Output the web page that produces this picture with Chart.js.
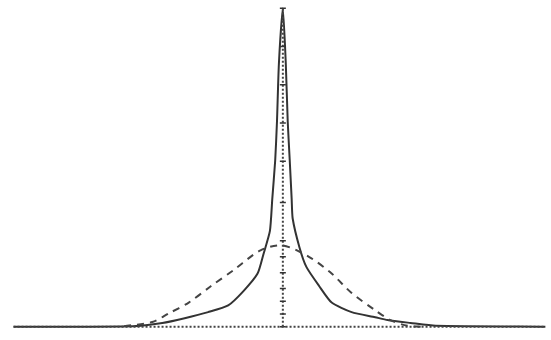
<!DOCTYPE html>
<html>
<head>
<meta charset="utf-8">
<script src="https://cdn.jsdelivr.net/npm/chart.js@4.4.0/dist/chart.umd.min.js"></script>
<style>
  html, body { margin: 0; padding: 0; background: #fff; }
  #wrap { width: 551px; height: 340px; }
</style>
</head>
<body>
<div id="wrap"><canvas id="chart"></canvas></div>
<script>
// Peaked (solid) profile
const solidX = [-4.58, -2.55, -2.05, -1.67, -1.27, -0.93, -0.67, -0.43, -0.33, -0.22, -0.18, -0.13, -0.10, -0.067, 0,
  0.05, 0.083, 0.117, 0.15, 0.167, 0.283, 0.40, 0.617, 0.83, 1.17, 1.57, 1.78, 2.17, 2.6, 4.47];
const solidY = [0, 0.002, 0.012, 0.027, 0.046, 0.067, 0.112, 0.167, 0.228, 0.301, 0.401, 0.523, 0.644, 0.827, 1.0,
  0.827, 0.644, 0.523, 0.401, 0.34, 0.249, 0.188, 0.128, 0.076, 0.046, 0.030, 0.021, 0.012, 0.003, 0];

// Gaussian-like (dashed) profile
const dashX = [-2.7, -2.22, -1.93, -1.6, -1.22, -0.83, -0.38, 0, 0.45, 0.83, 1.17, 1.57, 1.83, 2.12, 2.35];
const dashY = [0.002, 0.015, 0.043, 0.076, 0.128, 0.179, 0.240, 0.255, 0.219, 0.167, 0.106, 0.052, 0.021, 0.003, 0];

// Centre marker line and baseline
const centerY = [0, 0.04, 0.08, 0.12, 0.17, 0.22, 0.27, 0.39, 0.52, 0.64, 0.76, 0.88, 1.0];
const baseX = [-4.58, 4.47];

const toPts = (xs, ys) => xs.map((x, i) => ({ x: x, y: ys[i] }));

new Chart(document.getElementById('chart'), {
  type: 'scatter',
  data: {
    datasets: [
      {
        data: toPts(baseX, [0, 0]),
        showLine: true,
        borderColor: '#444',
        borderWidth: 2,
        borderDash: [2, 2],
        pointRadius: 0,
      },
      {
        data: centerY.map((y) => ({ x: 0, y: y })),
        showLine: true,
        borderColor: '#444',
        borderWidth: 2,
        borderDash: [2, 2],
        pointStyle: 'line',
        pointRadius: 3,
        pointBorderColor: '#333',
        pointBorderWidth: 1.5,
      },
      {
        data: toPts(dashX, dashY),
        showLine: true,
        borderColor: '#444',
        borderWidth: 2,
        borderDash: [7, 6],
        tension: 0.3,
        pointRadius: 0,
      },
      {
        data: toPts(solidX, solidY),
        showLine: true,
        borderColor: '#333',
        borderWidth: 2,
        tension: 0.2,
        pointRadius: 0,
      },
    ],
  },
  options: {
    responsive: true,
    maintainAspectRatio: false,
    animation: false,
    layout: { padding: 0 },
    plugins: {
      legend: { display: false },
      tooltip: { enabled: false },
    },
    scales: {
      x: { type: 'linear', min: -4.717, max: 4.467, display: false },
      y: { min: -0.0243, max: 1.009, display: false },
    },
  },
});
</script>
</body>
</html>
